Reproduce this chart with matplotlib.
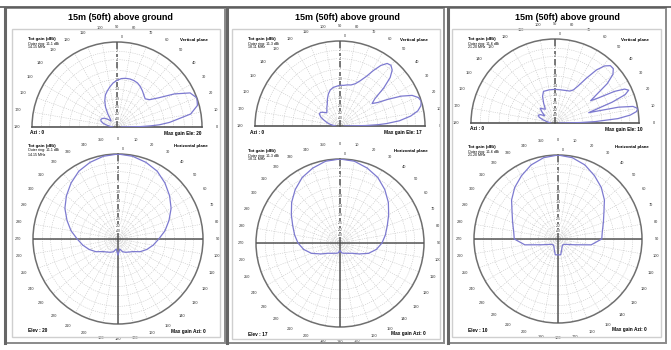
import numpy as np
import matplotlib
matplotlib.use("Agg")
import matplotlib.pyplot as plt
from matplotlib.patches import Rectangle

plt.rcParams['font.family'] = ['Liberation Sans', 'DejaVu Sans']

W, H = 671, 350

titles = ["15m (50ft) above ground", "15m (50ft) above ground", "15m (50ft) above ground"]
freqs = ["14.15 MHz", "18.11 MHz", "21.20 MHz"]
outer_ring = ["11.1 dBi", "11.3 dBi", "11.6 dBi"]
max_ele = [20, 17, 10]
max_azi = [0, 0, 0]

# elevation patterns, dB relative to max (0 = horizon front, 180 = horizon back)
ele_ang_1 = [0, 1, 2, 3, 5, 10, 15, 20, 25, 30, 35, 40, 45, 50, 55, 60, 65, 70, 75, 80, 85, 90,
             95, 100, 105, 110, 115, 120, 125, 130, 135, 140, 145, 150, 155, 160, 165, 170, 175, 180]
ele_db_1 = [-51.4, -21.8, -15.7, -11.9, -8.2, -2.2, -0.35, 0, -0.9, -4.3, -8.8, -11.9, -13.0, -12.2,
            -11.2, -10.3, -9.6, -9.3, -9.2, -9.3, -9.6, -10.3, -11.2, -12.6, -14.1, -15.7, -18.5,
            -22.5, -28.5, -36.4, -39.5, -33.7, -29.4, -27.6, -26.8, -27.6, -30.4, -36.4, -43.3, -51.4]

ele_ang_2 = [0, 1, 2, 3, 5, 8, 11, 14, 17, 20, 23, 26, 29, 32, 35, 38, 41, 44, 47, 50, 53, 56,
             59, 62, 66, 70, 75, 80, 85, 90, 95, 100, 105, 110, 115, 120, 125, 130, 135, 140, 145,
             150, 155, 160, 165, 170, 175, 180]
ele_db_2 = [-51.4, -20.7, -13.7, -10.3, -6.1, -3.0, -1.2, -0.35, 0, -0.35, -1.4, -3.8, -7.4, -11.2,
            -13.3, -11.2, -6.6, -3.4, -1.8, -1.2, -1.4, -2.6, -4.7, -7.1, -9.3, -10.9, -11.9,
            -12.2, -12.6, -12.6, -13.0, -13.3, -14.1, -15.7, -18.0, -20.7, -22.5, -24.5, -26.0,
            -23.8, -21.8, -21.8, -23.8, -27.6, -31.4, -36.4, -43.3, -51.4]

ele_ang_3 = [0, 1, 2, 4, 6, 8, 10, 12, 14, 16, 17, 18, 20, 22, 24, 26, 28, 30, 32, 34, 37, 40,
             43, 46, 49, 52, 55, 58, 61, 65, 70, 80, 90, 100, 110, 115, 120, 125, 130, 135, 140,
             145, 150, 155, 160, 165, 170, 175, 180]
ele_db_3 = [-51.4, -20.7, -12.6, -4.9, -1.8, -0.35, 0, -0.9, -4.3, -11.9, -14.9, -12.6, -5.6,
            -1.8, -0.7, -1.4, -3.8, -8.8, -11.9, -9.3, -4.3, -1.8, -0.9, -0.9, -1.8, -3.8, -7.4,
            -11.2, -13.7, -14.9, -15.3, -15.7, -15.7, -15.7, -15.7, -18.0, -22.5, -27.6, -26.0,
            -23.8, -27.6, -32.6, -27.6, -26.0, -27.6, -32.6, -39.5, -45.6, -51.4]

# azimuth patterns at the take-off angle, 0..180 (pattern is symmetric)
azi_ang = [0, 10, 20, 30, 40, 50, 60, 70, 80, 90, 100, 110, 120, 130, 140, 150, 160, 170, 180]
azi_db_1 = [0, -0.2, -0.7, -1.4, -2.6, -4.0, -5.6, -7.7, -9.9, -12.6, -14.9, -17.5, -20.7,
            -25.2, -27.6, -29.4, -31.4, -36.4, -28.5]
azi_db_2 = [0, -0.2, -0.9, -1.8, -3.2, -4.9, -6.9, -8.8, -10.3, -11.9, -14.1, -17.5, -23.1,
            -28.5, -31.4, -33.7, -35.0, -36.4, -41.3]
azi_db_3 = [0, -0.3, -1.1, -2.4, -3.8, -5.6, -7.9, -9.5, -10.7, -11.2, -15.7, -27.6, -35.0,
            -39.5, -41.3, -39.5, -35.0, -28.5, -28.5]

ring_db = [-2, -4, -7, -10, -14, -19, -25, -32, -40]

LINE = '#7d7ad0'
GRID = '#c4c4c4'


def arrl(db):
    # ARRL log scale: 0.89 of radius per 2 dB
    return 0.89 ** (-np.asarray(db, dtype=float) / 2.0)


def frac(x0, y0, x1, y1):
    return [x0 / W, 1 - y1 / H, (x1 - x0) / W, (y1 - y0) / H]


def ptext(x, y, s, **kw):
    fig.text(x / W, 1 - y / H, s, **kw)


def style(ax, labels):
    ax.set_ylim(0, 1)
    ax.set_yticks(arrl(ring_db))
    ax.set_yticklabels([])
    ax.set_xticklabels(labels, fontsize=2.8, color='#333')
    ax.tick_params(axis='x', pad=0.5)
    ax.grid(True, color=GRID, lw=0.4, ls=(0, (2, 2)))
    ax.spines['polar'].set_color('#6f6f6f')
    ax.spines['polar'].set_linewidth(1.1)
    ax.set_facecolor('white')


def db_labels(ax, ang):
    for d in ring_db:
        ax.text(ang, arrl(d), str(d), fontsize=2.4, color='#333', ha='center', va='center',
                bbox=dict(fc='white', ec='none', pad=0.2), zorder=4)
    ax.annotate("0", xy=(ang, 1.0), xytext=(2.5, 2.5), textcoords='offset points',
                fontsize=2.6, color='#333', ha='left', va='bottom', zorder=4)


fig = plt.figure(figsize=(W / 100, H / 100), dpi=100)

panels = [
    dict(box=(5, 8, 225, 343), inner=(12, 29, 220, 337), tx=120,
         up=(117, 127, 85), lo=(118, 239, 85)),
    dict(box=(227, 8, 444, 343), inner=(232, 29, 440, 339), tx=347,
         up=(340, 126, 85), lo=(340, 243, 84)),
    dict(box=(448, 8, 666, 343), inner=(452, 29, 661, 337), tx=567,
         up=(555, 123, 84), lo=(558, 239, 84)),
]
ele_sets = [(ele_ang_1, ele_db_1), (ele_ang_2, ele_db_2), (ele_ang_3, ele_db_3)]
azi_sets = [azi_db_1, azi_db_2, azi_db_3]

# top frame line
fig.add_artist(plt.Line2D([0, 1], [1 - 7 / H, 1 - 7 / H], color='#555', lw=1.2))

for i, p in enumerate(panels):
    x0, y0, x1, y1 = p['box']
    fig.add_artist(Rectangle((x0 / W, 1 - y1 / H), (x1 - x0) / W, (y1 - y0) / H,
                             transform=fig.transFigure, fill=False, ec='#8a8a8a', lw=1.4))
    fig.add_artist(plt.Line2D([x0 / W, x0 / W], [1 - y1 / H, 1 - y0 / H], color='#666', lw=2.2))
    ix0, iy0, ix1, iy1 = p['inner']
    fig.add_artist(Rectangle((ix0 / W, 1 - iy1 / H), (ix1 - ix0) / W, (iy1 - iy0) / H,
                             transform=fig.transFigure, fill=False, ec='#cfcfcf', lw=1.0))
    ptext(p['tx'], 18, titles[i], fontsize=6.5, fontweight='bold', ha='center', va='center')

    # vertical plane (elevation); the half wedge sits centred in a square box
    cx, cy, R = p['up']
    ax = fig.add_axes(frac(cx - R, cy - 1.5 * R, cx + R, cy + 0.5 * R), projection='polar')
    ax.set_thetamin(0)
    ax.set_thetamax(180)
    ax.set_xticks(np.radians(np.arange(0, 181, 10)))
    style(ax, [str(a) for a in range(0, 181, 10)])
    for s in ('start', 'end'):
        ax.spines[s].set_color('#555')
        ax.spines[s].set_linewidth(1.2)
    ax.spines['inner'].set_visible(False)
    ax.plot([np.pi / 2, np.pi / 2], [0, 1], color='#555', lw=1.1, zorder=3)
    db_labels(ax, np.pi / 2)
    ang, db = ele_sets[i]
    ax.plot(np.radians(ang), arrl(db), color=LINE, lw=0.9, zorder=5)

    lx = ix0 + 16
    rx = ix1 - 12
    ptext(lx, 39, "Tot gain (dBi)", fontsize=3.2, fontweight='bold', va='center')
    ptext(lx, 43.5, "Outer ring: " + outer_ring[i], fontsize=2.6, va='center')
    ptext(lx, 47.5, freqs[i], fontsize=2.6, va='center')
    ptext(rx, 40, "Vertical plane", fontsize=3.2, fontweight='bold', ha='right', va='center')
    ptext(lx + 2, cy + 6, "Azi : %d" % max_azi[i], fontsize=3.4, fontweight='bold', va='center')
    ptext(rx - 6, cy + 6, "Max gain Ele: %d" % max_ele[i], fontsize=3.4, fontweight='bold',
          ha='right', va='center')

    # horizontal plane (azimuth)
    cx, cy, R = p['lo']
    ax = fig.add_axes(frac(cx - R, cy - R, cx + R, cy + R), projection='polar')
    ax.set_theta_zero_location('N')
    ax.set_theta_direction(-1)
    ax.set_xticks(np.radians(np.arange(0, 360, 10)))
    style(ax, [str(a) for a in range(0, 360, 10)])
    for a in (0, np.pi / 2, np.pi, 3 * np.pi / 2):
        ax.plot([a, a], [0, 1], color='#555', lw=1.1, zorder=3)
    db_labels(ax, 0)
    full_ang = np.radians(azi_ang + [360 - a for a in azi_ang[::-1]])
    full_db = azi_sets[i] + azi_sets[i][::-1]
    ax.plot(full_ang, arrl(full_db), color=LINE, lw=0.9, zorder=5)

    top = cy - R - 8
    ptext(lx, top, "Tot gain (dBi)", fontsize=3.2, fontweight='bold', va='center')
    ptext(lx, top + 4.5, "Outer ring: " + outer_ring[i], fontsize=2.6, va='center')
    ptext(lx, top + 8.5, freqs[i], fontsize=2.6, va='center')
    ptext(rx, top, "Horizontal plane", fontsize=3.2, fontweight='bold', ha='right', va='center')
    ptext(lx, cy + R + 7, "Elev : %d" % max_ele[i], fontsize=3.4, fontweight='bold', va='center')
    ptext(rx - 2, cy + R + 7, "Max gain Azi: %d" % max_azi[i], fontsize=3.4, fontweight='bold',
          ha='right', va='center')

fig.savefig("out.png", dpi=100, facecolor='white')
